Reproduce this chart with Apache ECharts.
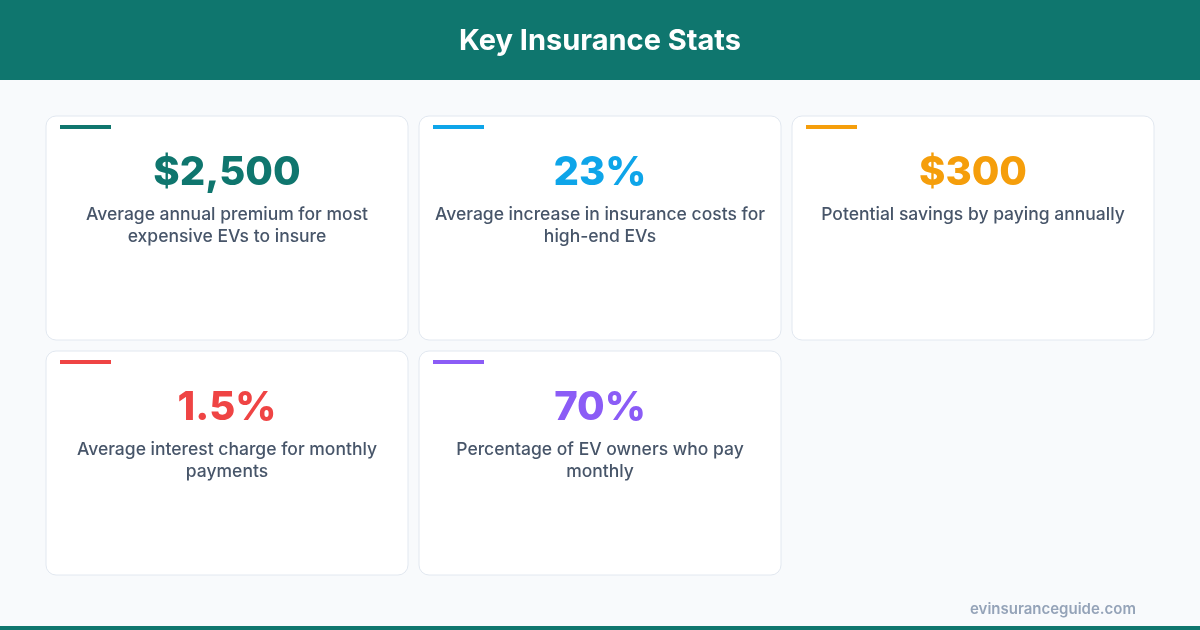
<!DOCTYPE html>
<html>
<head>
<meta charset="utf-8">
<script src="https://cdn.jsdelivr.net/npm/echarts@6/dist/echarts.min.js"></script>
<style>
  html, body { margin: 0; padding: 0; background: #f8fafc; }
  #chart { width: 1200px; height: 630px; }
</style>
</head>
<body>
<div id="chart"></div>
<script>
const title = "Key Insurance Stats";
const statValues = ["$2,500", "23%", "$300", "1.5%", "70%"];
const statLabels = [
  "Average annual premium for most\nexpensive EVs to insure",
  "Average increase in insurance costs for\nhigh-end EVs",
  "Potential savings by paying annually",
  "Average interest charge for monthly\npayments",
  "Percentage of EV owners who pay\nmonthly"
];
const statColors = ["#0f766e", "#0ea5e9", "#f59e0b", "#ef4444", "#8b5cf6"];
const source = "evinsuranceguide.com";

const font = "Inter, 'Noto Sans', sans-serif";
const cardW = 362, cardH = 224, gapX = 11, gapY = 11, left0 = 46, top0 = 116;

const graphics = [
  { type: "rect", shape: { x: 0, y: 0, width: 1200, height: 80 }, style: { fill: "#0f766e" } },
  { type: "text", x: 600, y: 41, style: { text: title, fill: "#fff", font: "700 29px " + font, align: "center", verticalAlign: "middle" } },
  { type: "rect", shape: { x: 0, y: 626, width: 1200, height: 4 }, style: { fill: "#0f766e" } },
  { type: "text", x: 1136, y: 609, style: { text: source, fill: "#94a3b8", font: "600 15px " + font, align: "right", verticalAlign: "middle" } }
];

statValues.forEach((v, i) => {
  const col = i % 3, row = Math.floor(i / 3);
  const x = left0 + col * (cardW + gapX), y = top0 + row * (cardH + gapY);
  graphics.push(
    { type: "rect", shape: { x: x, y: y, width: cardW, height: cardH, r: 10 }, style: { fill: "#fff", stroke: "#e2e8f0", lineWidth: 1 } },
    { type: "rect", shape: { x: x + 14, y: y + 9, width: 51, height: 4 }, style: { fill: statColors[i] } },
    { type: "text", x: x + cardW / 2, y: y + 57, style: { text: v, fill: statColors[i], font: "800 40px " + font, align: "center", verticalAlign: "middle" } },
    { type: "text", x: x + cardW / 2, y: y + 88, style: { text: statLabels[i], fill: "#475569", font: "500 17.5px " + font, align: "center", verticalAlign: "top", lineHeight: 22 } }
  );
});

const chart = echarts.init(document.getElementById("chart"));
chart.setOption({ backgroundColor: "#f8fafc", graphic: graphics });
window.addEventListener("resize", () => chart.resize());
</script>
</body>
</html>
